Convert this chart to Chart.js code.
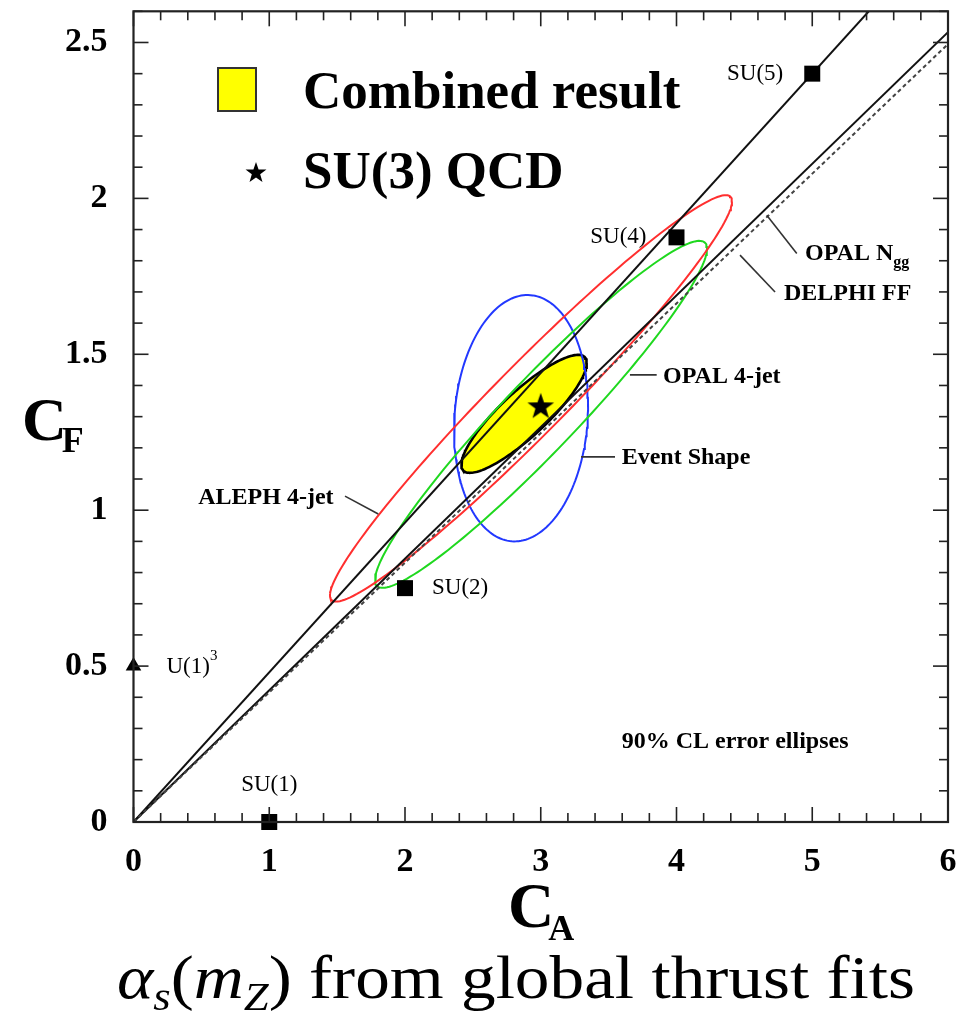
<!DOCTYPE html>
<html>
<head>
<meta charset="utf-8">
<script src="https://cdn.jsdelivr.net/npm/chart.js@4.4.0/dist/chart.umd.min.js"></script>
<style>
  html, body { margin: 0; padding: 0; background: #fff; }
</style>
</head>
<body>
<canvas id="cfca" width="961" height="1015"></canvas>
<script>
// axes
const xTicks = [0, 1, 2, 3, 4, 5, 6];
const yTicks = [0, 0.5, 1, 1.5, 2, 2.5];
const xMax = 6;
const yMax = 2.6;

// gauge groups (CA, CF)
const suNames = ['SU(1)', 'SU(2)', 'SU(4)', 'SU(5)'];
const suCA = [1, 2, 4, 5];
const suCF = [0, 0.75, 1.875, 2.4];
const qcdCA = [3];
const qcdCF = [1.333];
const u1CA = [0];
const u1CF = [0.5];

// straight lines from the origin, CF reached at CA = 6
const lineNames = ['upper', 'OPAL Ngg', 'DELPHI FF'];
const lineEndCA = [6, 6, 6];
const lineEndCF = [2.88, 2.533, 2.495];

// 90% CL ellipses: centre, offset of the right-most point, vertical half width at the centre
const ellNames = ['Combined result', 'ALEPH 4-jet', 'OPAL 4-jet', 'Event Shape'];
const ellCA = [2.877, 2.928, 3.002, 2.855];
const ellCF = [1.309, 1.3586, 1.3074, 1.295];
const ellRightCA = [0.462, 1.4807, 1.2228, 0.4936];
const ellRightCF = [0.163, 0.6318, 0.531, 0.0384];
const ellHalfCF = [0.096, 0.16, 0.1663, 0.3932];

// annotation texts and their pointer lines
const annNames = ['OPAL N', 'DELPHI FF', 'OPAL 4-jet', 'Event Shape', 'ALEPH 4-jet', '90% CL error ellipses'];
const annCA = [4.947, 4.792, 3.901, 3.596, 0.477, 3.596];
const annCF = [1.823, 1.695, 1.429, 1.168, 1.040, 0.256];
const ptrCA0 = [4.886, 4.726, 3.657, 3.297, 1.558];
const ptrCF0 = [1.823, 1.700, 1.434, 1.171, 1.045];
const ptrCA1 = [4.665, 4.468, 3.854, 3.547, 1.803];
const ptrCF1 = [1.946, 1.818, 1.434, 1.171, 0.988];

const SERIF = '"Liberation Serif", "DejaVu Serif", serif';

function ellipse(i) {
  const pts = [];
  const n = 180;
  for (let k = 0; k <= n; k++) {
    const t = 2 * Math.PI * k / n;
    pts.push({
      x: ellCA[i] + ellRightCA[i] * Math.cos(t),
      y: ellCF[i] + ellRightCF[i] * Math.cos(t) + ellHalfCF[i] * Math.sin(t)
    });
  }
  return pts;
}

function starPath(ctx, cx, cy, R, r) {
  ctx.beginPath();
  for (let k = 0; k < 10; k++) {
    const a = -Math.PI / 2 + k * Math.PI / 5;
    const rad = k % 2 ? r : R;
    ctx.lineTo(cx + rad * Math.cos(a), cy + rad * Math.sin(a));
  }
  ctx.closePath();
}

const starImg = document.createElement('canvas');
starImg.width = 30; starImg.height = 30;
{
  const c = starImg.getContext('2d');
  starPath(c, 15, 15.5, 14, 5.6);
  c.fillStyle = '#000';
  c.fill();
}

const ellColors = ['#000000', '#ff2f2f', '#1fd81f', '#2238ff'];
const ellOrder = [10, 7, 8, 9];

const datasets = [];
ellNames.forEach((name, i) => {
  datasets.push({
    type: 'line',
    label: name,
    data: ellipse(i),
    borderColor: ellColors[i],
    borderWidth: i === 0 ? 2.6 : 2,
    backgroundColor: '#ffff00',
    fill: i === 0 ? 'shape' : false,
    pointRadius: 0,
    order: ellOrder[i]
  });
});
lineNames.forEach((name, i) => {
  datasets.push({
    type: 'line',
    label: name,
    data: [{x: 0, y: 0}, {x: lineEndCA[i], y: lineEndCF[i]}],
    borderColor: i === 2 ? '#444' : '#111',
    borderWidth: 2,
    borderDash: i === 2 ? [4, 3] : [],
    pointRadius: 0,
    fill: false,
    order: 6 - i
  });
});
ptrCA0.forEach((v, i) => {
  datasets.push({
    type: 'line',
    label: 'pointer ' + i,
    data: [{x: ptrCA0[i], y: ptrCF0[i]}, {x: ptrCA1[i], y: ptrCF1[i]}],
    borderColor: '#333',
    borderWidth: 1.6,
    pointRadius: 0,
    fill: false,
    order: 3
  });
});
datasets.push({
  type: 'scatter',
  label: 'SU(N)',
  data: suCA.map((v, i) => ({x: v, y: suCF[i]})),
  pointStyle: 'rect',
  pointRadius: 11.3,
  backgroundColor: '#000',
  borderWidth: 0,
  clip: false,
  order: 1
});
datasets.push({
  type: 'scatter',
  label: 'U(1)^3',
  data: u1CA.map((v, i) => ({x: v, y: u1CF[i]})),
  pointStyle: 'triangle',
  pointRadius: 9,
  backgroundColor: '#000',
  borderWidth: 0,
  clip: false,
  order: 1
});
datasets.push({
  type: 'scatter',
  label: 'SU(3) QCD',
  data: qcdCA.map((v, i) => ({x: v, y: qcdCF[i]})),
  pointStyle: starImg,
  clip: false,
  order: 0
});

function rich(ctx, parts, x, y) {
  let cx = x;
  parts.forEach(p => {
    ctx.font = p.font;
    ctx.fillText(p.t, cx + (p.dx || 0), y + (p.dy || 0));
    cx += ctx.measureText(p.t).width + (p.dx || 0);
  });
}

function richWidth(ctx, parts) {
  let w = 0;
  parts.forEach(p => { ctx.font = p.font; w += ctx.measureText(p.t).width + (p.dx || 0); });
  return w;
}

const decor = {
  id: 'decor',
  afterDatasetsDraw(chart) {
    const {ctx, chartArea: a, scales: {x, y}} = chart;
    ctx.save();
    ctx.strokeStyle = '#222';
    ctx.lineWidth = 1.6;
    const seg = (x0, y0, x1, y1) => { ctx.beginPath(); ctx.moveTo(x0, y0); ctx.lineTo(x1, y1); ctx.stroke(); };
    // inward ticks, minor 0.2 on CA, 0.1 on CF
    for (let i = 0; i <= 30; i++) {
      const px = x.getPixelForValue(i * 0.2);
      const len = i % 5 === 0 ? 15 : 9;
      seg(px, a.bottom, px, a.bottom - len);
      seg(px, a.top, px, a.top + len);
    }
    for (let i = 0; i <= 26; i++) {
      const py = y.getPixelForValue(i * 0.1);
      const len = i % 5 === 0 ? 15 : 9;
      seg(a.left, py, a.left + len, py);
      seg(a.right, py, a.right - len, py);
    }
    ctx.lineWidth = 2.2;
    ctx.strokeRect(a.left, a.top, a.right - a.left, a.bottom - a.top);

    ctx.fillStyle = '#000';
    ctx.textBaseline = 'alphabetic';

    // legend
    ctx.fillStyle = '#ffff00';
    ctx.fillRect(218, 68, 38, 43);
    ctx.strokeStyle = '#333';
    ctx.lineWidth = 2;
    ctx.strokeRect(218, 68, 38, 43);
    ctx.fillStyle = '#000';
    starPath(ctx, 256, 173, 11, 4.4);
    ctx.fill();
    ctx.font = 'bold 53px ' + SERIF;
    ctx.fillText('Combined result', 303, 108);
    ctx.fillText('SU(3) QCD', 303, 188);

    // gauge group labels
    const reg = '23px ' + SERIF;
    const lab = [
      {dx: 0, dy: -37, align: 'center'},
      {dx: 27, dy: 0, align: 'left'},
      {dx: -30, dy: 0, align: 'right'},
      {dx: -29, dy: 0, align: 'right'}
    ];
    ctx.textBaseline = 'middle';
    ctx.font = reg;
    suNames.forEach((n, i) => {
      ctx.textAlign = lab[i].align;
      ctx.fillText(n, x.getPixelForValue(suCA[i]) + lab[i].dx, y.getPixelForValue(suCF[i]) + lab[i].dy);
    });
    ctx.textAlign = 'left';
    rich(ctx, [{t: 'U(1)', font: reg}, {t: '3', font: '15px ' + SERIF, dy: -11}],
      x.getPixelForValue(u1CA[0]) + 33, y.getPixelForValue(u1CF[0]) + 1);

    // annotations
    const bold = 'bold 24px ' + SERIF;
    annNames.forEach((n, i) => {
      const px = x.getPixelForValue(annCA[i]);
      const py = y.getPixelForValue(annCF[i]);
      if (i === 0) {
        rich(ctx, [{t: n, font: bold}, {t: 'gg', font: 'bold 16px ' + SERIF, dy: 9}], px, py);
      } else {
        ctx.font = bold;
        ctx.fillText(n, px, py);
      }
    });

    // axis titles
    ctx.textBaseline = 'alphabetic';
    rich(ctx, [{t: 'C', font: 'bold 64px ' + SERIF}, {t: 'A', font: 'bold 36px ' + SERIF, dx: -6, dy: 13}], 508, 927);
    rich(ctx, [{t: 'C', font: 'bold 62px ' + SERIF}, {t: 'F', font: 'bold 36px ' + SERIF, dx: -5, dy: 12}], 22, 440);

    // caption, stretched to the width of the original
    const cap = [
      {t: '\u03b1', font: 'italic 62px ' + SERIF},
      {t: 's', font: 'italic 40px ' + SERIF, dy: 12},
      {t: '(', font: '62px ' + SERIF},
      {t: 'm', font: 'italic 62px ' + SERIF},
      {t: 'Z', font: 'italic 40px ' + SERIF, dy: 12},
      {t: ') from global thrust fits', font: '62px ' + SERIF}
    ];
    const sx = 798 / richWidth(ctx, cap);
    ctx.translate(117, 998);
    ctx.scale(sx, 1);
    rich(ctx, cap, 0, 0);
    ctx.restore();
  }
};

const tickFont = {family: SERIF, weight: 'bold', size: 34};
const noPad = s => { s.paddingTop = 0; s.paddingBottom = 0; s.paddingLeft = 0; s.paddingRight = 0; };

new Chart(document.getElementById('cfca'), {
  type: 'line',
  data: {datasets},
  options: {
    responsive: false,
    animation: false,
    devicePixelRatio: 1,
    events: [],
    layout: {padding: {top: 8, right: 13, left: 0, bottom: 0}},
    plugins: {legend: {display: false}, tooltip: {enabled: false}},
    scales: {
      x: {
        type: 'linear',
        min: 0,
        max: xMax,
        afterFit: s => { s.height = 193; noPad(s); },
        grid: {display: false, drawTicks: false},
        border: {display: false},
        ticks: {
          stepSize: 1,
          font: tickFont,
          color: '#000',
          padding: 20,
          maxRotation: 0,
          callback: v => xTicks.includes(v) ? String(v) : ''
        }
      },
      y: {
        type: 'linear',
        min: 0,
        max: yMax,
        afterFit: s => { s.width = 133.5; noPad(s); },
        grid: {display: false, drawTicks: false},
        border: {display: false},
        ticks: {
          stepSize: 0.5,
          includeBounds: false,
          font: tickFont,
          color: '#000',
          padding: 26,
          callback: v => {
            const t = yTicks.find(k => Math.abs(k - v) < 1e-6);
            return t === undefined ? '' : String(t);
          }
        }
      }
    }
  },
  plugins: [decor]
});
</script>
</body>
</html>
